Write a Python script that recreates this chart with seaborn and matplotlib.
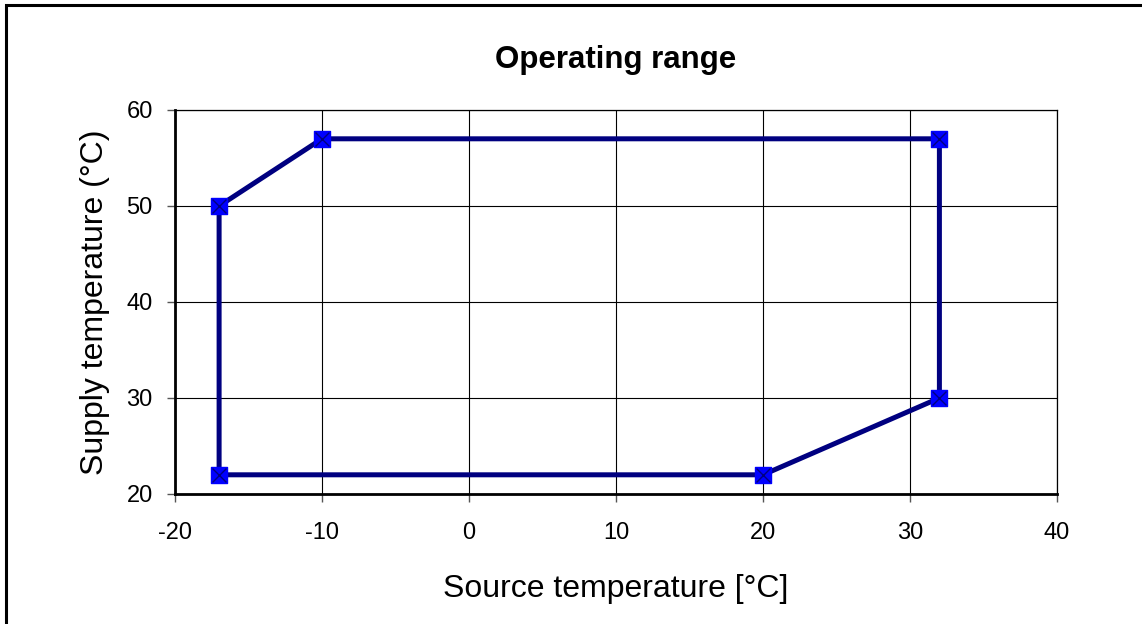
import pandas as pd
import matplotlib.pyplot as plt
import seaborn as sns
from matplotlib.patches import Rectangle

# -----------------------------------------------
# Data: corner points of the operating envelope
# -----------------------------------------------
source_temp = [-17, -17, -10, 32, 32, 20, -17]
supply_temp = [22, 50, 57, 57, 30, 22, 22]

x_ticks = [-20, -10, 0, 10, 20, 30, 40]
y_ticks = [20, 30, 40, 50, 60]

df = pd.DataFrame({"source": source_temp, "supply": supply_temp})

sns.set_theme(style="white")
plt.rcParams["font.family"] = ["Liberation Sans", "DejaVu Sans"]
plt.rcParams["axes.unicode_minus"] = False
plt.rcParams["text.color"] = "black"
plt.rcParams["axes.labelcolor"] = "black"

fig = plt.figure(figsize=(11.42, 6.24), dpi=100)
ax = fig.add_axes([175 / 1142, 1 - 494 / 624, 882 / 1142, 384 / 624])

# outer chart border (Excel style)
fig.patches.append(Rectangle((6 / 1142, -0.05), 1.1, 1 - 5 / 624 + 0.05,
                             transform=fig.transFigure, fill=False,
                             edgecolor="black", linewidth=2.2, zorder=0))

sns.lineplot(data=df, x="source", y="supply", sort=False, estimator=None,
             ax=ax, color="#000080", linewidth=3.6, zorder=3)
ax.scatter(df["source"][:-1], df["supply"][:-1], marker="s", s=130,
           color="#0000ff", edgecolor="#0000ff", zorder=4)
ax.scatter(df["source"][:-1], df["supply"][:-1], marker="x", s=100,
           color="#000080", linewidth=1.0, zorder=5)

ax.set_xlim(-20, 40)
ax.set_ylim(20, 60)
ax.set_xticks(x_ticks)
ax.set_yticks(y_ticks)
ax.grid(True, color="black", linewidth=0.8)
ax.set_axisbelow(True)

for side in ["top", "right"]:
    ax.spines[side].set_linewidth(0.9)
    ax.spines[side].set_color("black")
for side in ["bottom", "left"]:
    ax.spines[side].set_linewidth(2.0)
    ax.spines[side].set_color("black")

ax.tick_params(axis="both", direction="out", length=6, width=1.0,
               color="#555555", labelsize=17, labelcolor="black",
               bottom=True, left=True)
ax.tick_params(axis="x", pad=14)
ax.tick_params(axis="y", pad=10)

ax.set_xlabel("Source temperature [°C]", fontsize=23, labelpad=22)
ax.set_ylabel("Supply temperature (°C)", fontsize=23, labelpad=12)
ax.set_title("Operating range", fontsize=22.5, fontweight="bold", pad=30)

fig.savefig("out.png", dpi=100)
